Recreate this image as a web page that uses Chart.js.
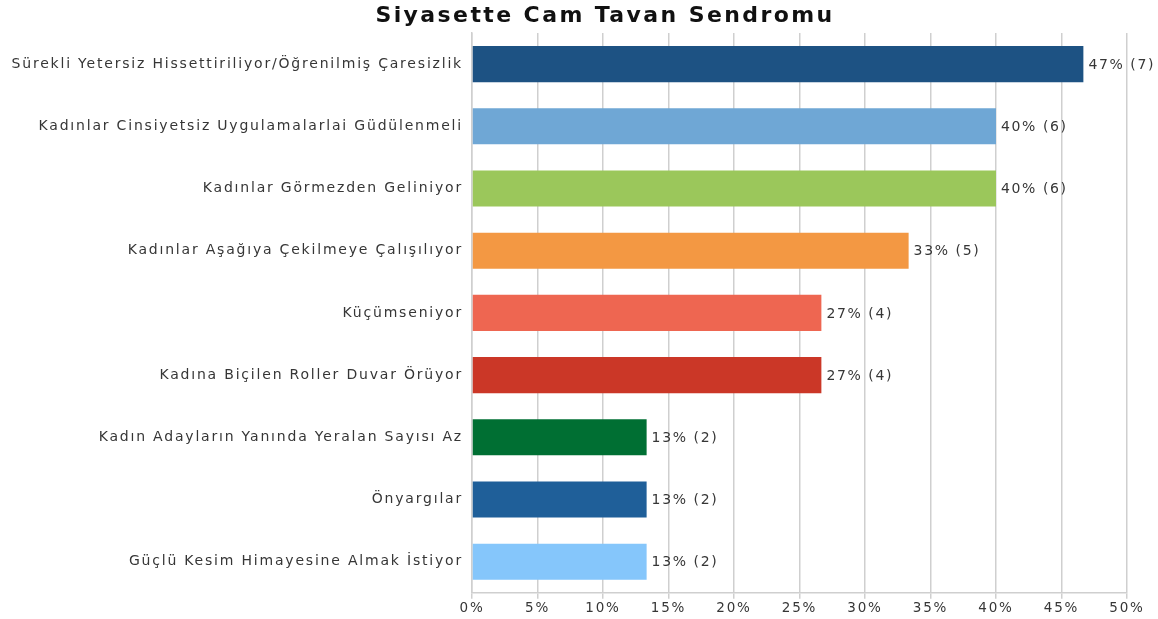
<!DOCTYPE html>
<html><head><meta charset="utf-8">
<script src="https://cdn.jsdelivr.net/npm/chart.js@4/dist/chart.umd.min.js"></script>
<style>html,body{margin:0;padding:0;background:#fff}#wrap{width:1158px;height:619px;position:relative}</style>
</head><body><div id="wrap"><canvas id="c" width="1158" height="619"></canvas></div>
<script>
const titleText = "Siyasette Cam Tavan Sendromu";
const categories = [
  "Sürekli Yetersiz Hissettiriliyor/Öğrenilmiş Çaresizlik",
  "Kadınlar Cinsiyetsiz Uygulamalarlai Güdülenmeli",
  "Kadınlar Görmezden Geliniyor",
  "Kadınlar Aşağıya Çekilmeye Çalışılıyor",
  "Küçümseniyor",
  "Kadına Biçilen Roller Duvar Örüyor",
  "Kadın Adayların Yanında Yeralan Sayısı Az",
  "Önyargılar",
  "Güçlü Kesim Himayesine Almak İstiyor"
];
const percents = [46.67, 40, 40, 33.33, 26.67, 26.67, 13.33, 13.33, 13.33];
const counts = [7, 6, 6, 5, 4, 4, 2, 2, 2];
const barColors = ["#1d5283", "#6fa7d5", "#9bc75b", "#f39843", "#ee6651", "#cb3727", "#006f33", "#1f5f99", "#85c6fb"];
const xTicks = [0, 5, 10, 15, 20, 25, 30, 35, 40, 45, 50];

const FONT = "'DejaVu Sans', Verdana, sans-serif";

const spacingPlugin = {
  id: 'spacing',
  beforeLayout(chart) { chart.ctx.letterSpacing = "1.8px"; },
  beforeDraw(chart) { chart.ctx.letterSpacing = "1.8px"; }
};
const labelPlugin = {
  id: 'barLabels',
  afterDatasetsDraw(chart) {
    const ctx = chart.ctx;
    const meta = chart.getDatasetMeta(0);
    ctx.save();
    ctx.letterSpacing = "1.6px";
    ctx.font = "14px " + FONT;
    ctx.fillStyle = "#363636";
    ctx.textBaseline = "middle";
    ctx.textAlign = "left";
    meta.data.forEach((bar, i) => {
      ctx.fillText(Math.round(percents[i]) + "% (" + counts[i] + ")", bar.x + 5, bar.y + 1);
    });
    ctx.restore();
  }
};
const titlePlugin = {
  id: 'customTitle',
  afterDraw(chart) {
    const ctx = chart.ctx;
    ctx.save();
    ctx.letterSpacing = "2.4px";
    ctx.font = "bold 22px " + FONT;
    ctx.fillStyle = "#111";
    ctx.textAlign = "center";
    ctx.textBaseline = "middle";
    ctx.fillText(titleText, 605, 16);
    ctx.restore();
  }
};

new Chart(document.getElementById('c'), {
  type: 'bar',
  data: {
    labels: categories,
    datasets: [{
      data: percents,
      backgroundColor: barColors,
      borderWidth: 0,
      barPercentage: 0.58,
      categoryPercentage: 1.0
    }]
  },
  options: {
    indexAxis: 'y',
    responsive: false,
    animation: false,
    layout: { padding: { top: 33, right: 31, bottom: 0, left: 0 } },
    plugins: { legend: { display: false }, title: { display: false }, tooltip: { enabled: false } },
    scales: {
      x: {
        min: 0, max: 50,
        afterBuildTicks(scale) { scale.ticks = xTicks.map(v => ({ value: v })); },
        ticks: { callback: v => v + "%", color: "#363636", font: { family: FONT, size: 13.5 }, padding: 2, maxRotation: 0 },
        grid: { color: "#cfcfcf", lineWidth: 1.5, drawTicks: true, tickLength: 6 },
        border: { display: true, color: "#cfcfcf", width: 1.5 }
      },
      y: {
        afterFit(scale) { scale.width = 472; },
        ticks: { color: "#363636", font: { family: FONT, size: 14 }, padding: 9 },
        grid: { display: false, drawTicks: false },
        border: { display: true, color: "#cfcfcf", width: 1.5 }
      }
    }
  },
  plugins: [spacingPlugin, labelPlugin, titlePlugin]
});
</script></body></html>
